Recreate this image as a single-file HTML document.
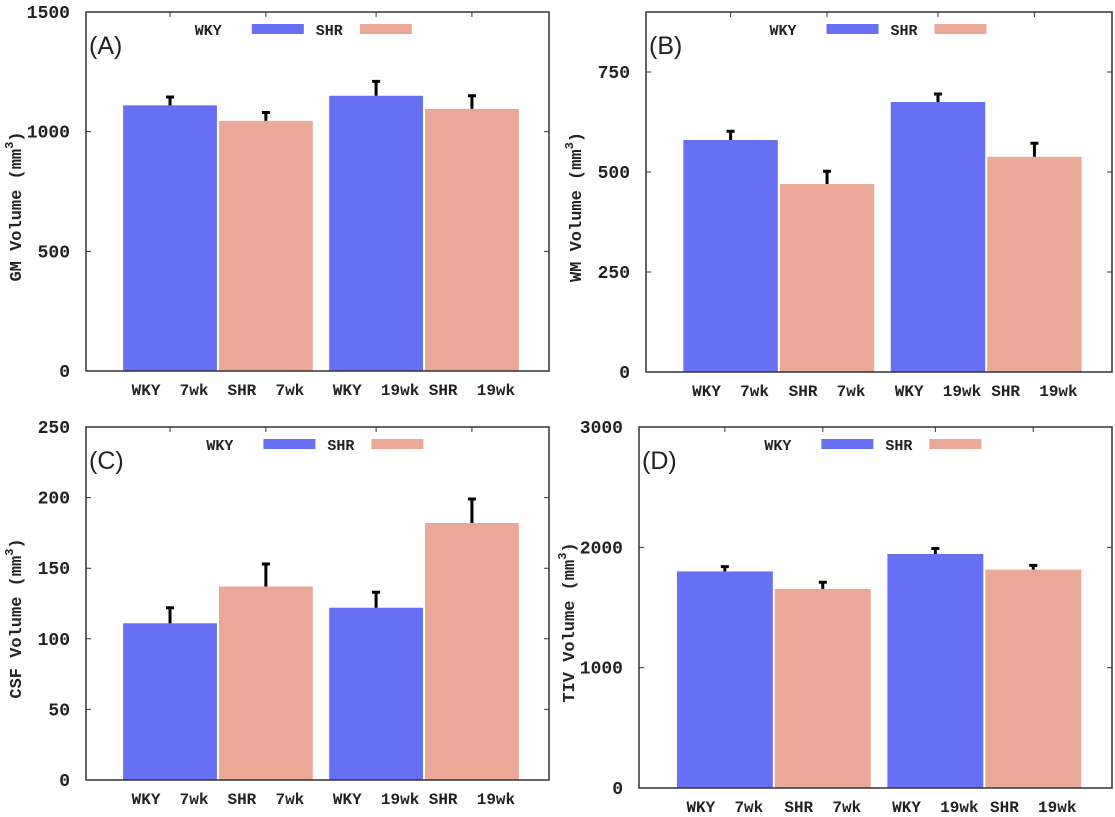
<!DOCTYPE html>
<html><head><meta charset="utf-8"><style>
body{margin:0;background:#fff;width:1115px;height:817px;overflow:hidden}
svg{display:block}
text{font-family:"Liberation Mono",monospace;font-weight:bold;fill:#222;white-space:pre}
</style></head><body>
<svg id="chart" width="1115" height="817"></svg>
<script>
const categories=["WKY  7wk","SHR  7wk","WKY  19wk","SHR  19wk"];
const gmValues=[1110,1045,1150,1095];
const gmErrors=[1145,1080,1210,1150];
const wmValues=[580,470,675,538];
const wmErrors=[602,502,695,572];
const csfValues=[111,137,122,182];
const csfErrors=[122,153,133,199];
const tivValues=[1800,1655,1945,1815];
const tivErrors=[1840,1710,1990,1850];
const gmTicks=[0,500,1000,1500];
const wmTicks=[0,250,500,750];
const csfTicks=[0,50,100,150,200,250];
const tivTicks=[0,1000,2000,3000];
const colors=["#6770f2","#eca897","#6770f2","#eca897"];
const NS="http://www.w3.org/2000/svg";
const svg=document.getElementById('chart');
function mk(tag,attrs,parent){const e=document.createElementNS(NS,tag);for(const k in attrs)e.setAttribute(k,attrs[k]);(parent||svg).appendChild(e);return e;}
const panels=[
 {id:'a',label:'(A)',title:'GM Volume',box:[86,12,549,371],ymax:1500,ticks:gmTicks,vals:gmValues,errs:gmErrors,lg:0.235},
 {id:'b',label:'(B)',title:'WM Volume',box:[646,12,1112,372],ymax:900,ticks:wmTicks,vals:wmValues,errs:wmErrors,lg:0.265},
 {id:'c',label:'(C)',title:'CSF Volume',box:[86,427,549,780],ymax:250,ticks:csfTicks,vals:csfValues,errs:csfErrors,lg:0.26},
 {id:'d',label:'(D)',title:'TIV Volume',box:[639,427,1112,788],ymax:3000,ticks:tivTicks,vals:tivValues,errs:tivErrors,lg:0.265}
];
const slots=[0,1,2.15,3.15];
panels.forEach(p=>{
 const [x0,y0,x1,y1]=p.box,W=x1-x0,H=y1-y0;
 const g=mk('g',{});
 
 
 const y=v=>y1-v/p.ymax*H;
 const bw=0.207*W, off=x0+0.078*W;
 p.vals.forEach((v,i)=>{
  const bx=off+slots[i]*bw;
  const r=mk('rect',{x:bx+1,y:y(v),width:bw-2,height:y1-y(v),fill:colors[i]},g);
  
  
  const cx=bx+bw/2;
  const e=mk('path',{d:`M${cx},${y(v)}V${y(p.errs[i])}M${cx-4},${y(p.errs[i])}H${cx+4}`,stroke:'#000','stroke-width':3},g);
  
  
  const t=mk('text',{x:cx,y:y1+24,'text-anchor':'middle','font-size':16},g);
  t.textContent=categories[i];
  
  
 });
 p.ticks.forEach(tv=>{
  const ty=y(tv);
  mk('path',{d:`M${x0},${ty}h5M${x1},${ty}h-5`,stroke:'#333','stroke-width':1},g);
  const t=mk('text',{x:x0-16,y:ty+6,'text-anchor':'end','font-size':18},g);
  t.textContent=tv;
  
  
 });
 slots.forEach(s=>{const cx=off+s*bw+bw/2;mk('path',{d:`M${cx},${y0}v5`,stroke:'#333'},g);});
 const b=mk('rect',{x:x0,y:y0,width:W,height:H,fill:'none',stroke:'#333','stroke-width':1.5},g);
 
 
 const L=mk('text',{x:x0+3,y:y0+42,'font-size':25,style:'font-family:"Liberation Sans",sans-serif;font-weight:normal'},g);
 L.textContent=p.label;
 
 
 const cy=(y0+y1)/2+15;
 const yt=mk('text',{x:0,y:0,'font-size':17,'text-anchor':'middle',transform:`translate(${x0-65},${cy}) rotate(-90)`},g);
 yt.innerHTML=p.title+' (mm<tspan dy="-8" font-size="12">3</tspan><tspan dy="8">)</tspan>';
 
 
 const lx=x0+p.lg*W, ly=y0+23;
 const lg=mk('g',{},g);
 
 
 const t1=mk('text',{x:lx,y:ly,'font-size':15},lg);t1.textContent='WKY';
 mk('rect',{x:lx+57,y:ly-11,width:52,height:10,fill:colors[0]},lg);
 const t2=mk('text',{x:lx+121,y:ly,'font-size':15},lg);t2.textContent='SHR';
 mk('rect',{x:lx+165,y:ly-11,width:52,height:10,fill:colors[1]},lg);
});
</script>
</body></html>
